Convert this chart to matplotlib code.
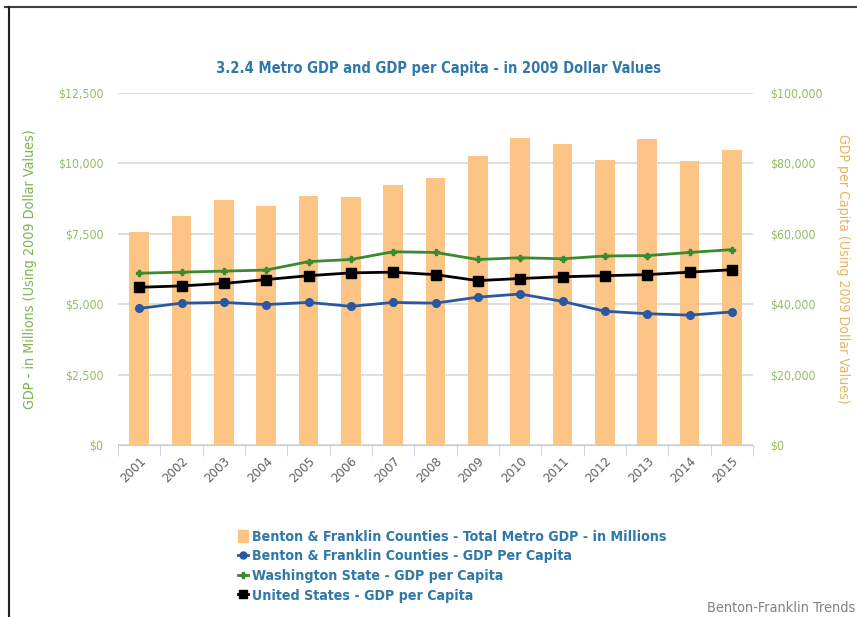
import matplotlib.pyplot as plt
import numpy as np
from matplotlib.lines import Line2D

years = ['2001', '2002', '2003', '2004', '2005', '2006', '2007', '2008',
         '2009', '2010', '2011', '2012', '2013', '2014', '2015']

# metro GDP, millions of 2009 dollars
metro_gdp = [7550, 8130, 8710, 8490, 8830, 8800, 9230, 9490,
             10270, 10890, 10700, 10110, 10850, 10070, 10480]

# GDP per capita, 2009 dollars
bf_per_capita = [38800, 40300, 40500, 39900, 40500, 39400, 40500, 40300,
                 42000, 42900, 40800, 38000, 37300, 36900, 37800]
wa_per_capita = [48800, 49100, 49400, 49700, 52100, 52700, 54900, 54700,
                 52700, 53200, 52900, 53700, 53800, 54700, 55500]
us_per_capita = [44800, 45200, 45900, 47000, 48100, 48900, 49100, 48400,
                 46700, 47300, 47800, 48100, 48400, 49100, 49800]

left_ticks = [0, 2500, 5000, 7500, 10000, 12500]
right_ticks = [0, 20000, 40000, 60000, 80000, 100000]

plt.rcParams['font.family'] = ['DejaVu Sans']
plt.rcParams['font.stretch'] = 'condensed'

bar_col = '#FCC585'
blue = '#2A58A0'
green = '#3B8A2F'
lbl_green = '#96BC66'
title_blue = '#2F78A8'
axis_col = '#C0D0E0'
grid_col = '#D8D8D8'

fig = plt.figure(figsize=(8.57, 6.17), dpi=100)
ax = fig.add_axes([118 / 857, 1 - 445 / 617, (753 - 118) / 857, (445 - 93) / 617])
ax2 = ax.twinx()

x = np.arange(len(years))
ax.bar(x, metro_gdp, width=0.47, color=bar_col, zorder=2)
ax.set_xlim(-0.5, len(years) - 0.5)
ax.set_ylim(0, 12500)
ax.set_yticks(left_ticks)
ax.set_yticklabels(['$' + format(v, ',') for v in left_ticks])
ax.grid(axis='y', color=grid_col, linewidth=1.2, zorder=0)
ax.set_axisbelow(True)

ax2.plot(x, wa_per_capita, color=green, linewidth=2, marker='P', markersize=5, zorder=3)
ax2.plot(x, us_per_capita, color='black', linewidth=2, marker='s', markersize=6.5, zorder=4)
ax2.plot(x, bf_per_capita, color=blue, linewidth=2, marker='o', markersize=5.5, zorder=5)
ax2.set_ylim(0, 100000)
ax2.set_yticks(right_ticks)
ax2.set_yticklabels(['$' + format(v, ',') for v in right_ticks])

for a in (ax, ax2):
    for s in a.spines.values():
        s.set_visible(False)
    a.tick_params(axis='y', length=0, labelsize=8.8, labelcolor=lbl_green)
ax.tick_params(axis='y', pad=10.5)
ax2.tick_params(axis='y', pad=12)

ax.spines['bottom'].set_visible(True)
ax.spines['bottom'].set_color(axis_col)
ax.set_xticks(x)
ax.set_xticklabels(years, rotation=45, ha='right', va='top', rotation_mode='anchor',
                   fontsize=9.5, color='#606060')
ax.set_xticks(np.arange(-0.5, len(years)), minor=True)
ax.tick_params(axis='x', which='major', length=0, pad=7)
ax.tick_params(axis='x', which='minor', length=8, color=axis_col)

ax.set_ylabel('GDP - in Millions (Using 2009 Dollar Values)', color='#7DB34E', fontsize=10.3)
ax.yaxis.set_label_coords((37 - 118) / 635, 0.5)
ax2.set_ylabel('GDP per Capita (Using 2009 Dollar Values)', color='#E8B463', fontsize=10.1,
               rotation=270, va='center')
ax2.yaxis.set_label_coords((843 - 118) / 635, 0.5)

fig.text(439 / 857, 1 - 68 / 617, '3.2.4 Metro GDP and GDP per Capita - in 2009 Dollar Values',
         ha='center', va='center', fontsize=10.5, fontweight='bold', color=title_blue)

handles = [
    plt.Rectangle((0, 0), 1, 1, color=bar_col),
    Line2D([], [], color=blue, linewidth=2, marker='o', markersize=5),
    Line2D([], [], color=green, linewidth=2, marker='P', markersize=5),
    Line2D([], [], color='black', linewidth=2, marker='s', markersize=6),
]
labels = ['Benton & Franklin Counties - Total Metro GDP - in Millions',
          'Benton & Franklin Counties - GDP Per Capita',
          'Washington State - GDP per Capita',
          'United States - GDP per Capita']
leg = fig.legend(handles, labels, loc='upper left', bbox_to_anchor=(225 / 857, 1 - 517 / 617),
                 frameon=False, handlelength=0.75, handleheight=0.9, handletextpad=0.25,
                 labelspacing=0.4, prop={'size': 10.2, 'weight': 'bold'})
for t in leg.get_texts():
    t.set_color(title_blue)

fig.text(855 / 857, 1 - 608 / 617, 'Benton-Franklin Trends', ha='right', va='center',
         fontsize=10.4, color='#808080')

# thin frame on the top and left edges
fig.add_artist(Line2D([5 / 857, 1], [1 - 7 / 617, 1 - 7 / 617], color='#404040', linewidth=1.5))
fig.add_artist(Line2D([9 / 857, 9 / 857], [0, 1 - 7 / 617], color='#202020', linewidth=1.5))

fig.savefig('out.png', dpi=100)
